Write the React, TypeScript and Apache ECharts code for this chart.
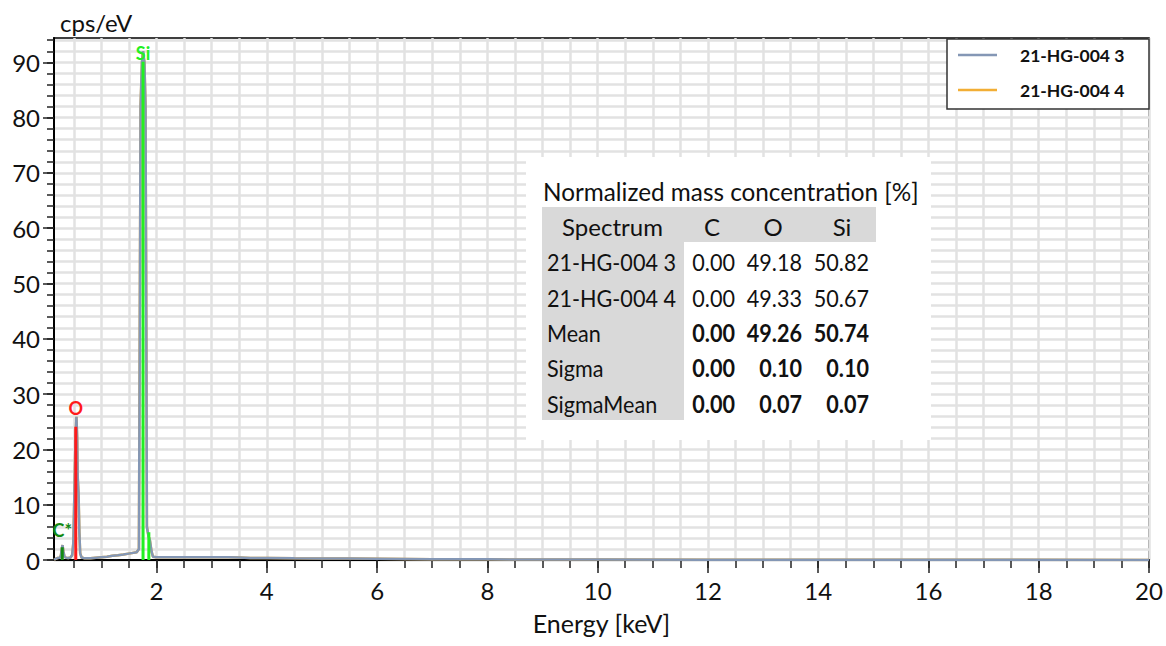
import React, { useEffect, useRef } from "react";
import * as echarts from "echarts";

const FONT = "Lato, 'Noto Sans', sans-serif";

// ---- spectrum (keV, cps/eV) ----
const spectrumEnergy = [
  0.14, 0.17, 0.2, 0.24, 0.265, 0.28, 0.295, 0.31, 0.33, 0.36, 0.4, 0.44, 0.47,
  0.49, 0.51, 0.53, 0.547, 0.56, 0.57, 0.585, 0.6, 0.615, 0.64, 0.7, 0.8, 0.9,
  1.0, 1.1, 1.2, 1.3, 1.4, 1.52, 1.64, 1.68, 1.695, 1.71, 1.735, 1.755, 1.78,
  1.8, 1.815, 1.825, 1.85, 1.88, 1.91, 1.935, 2.0, 2.5, 3.0, 3.3, 3.5, 3.7, 4.0,
  4.5, 5.0, 5.5, 6.0, 6.5, 7.0, 8.0, 9.0, 10.0, 12.0, 15.0, 20.0,
];
const spectrum3Cps = [
  0.05, 0.2, 0.35, 0.4, 0.8, 2.0, 2.7, 1.6, 0.6, 0.4, 0.35, 0.45, 0.9,
  3, 12, 22, 25.9, 22, 15, 12, 5, 1.2, 0.45, 0.3, 0.3, 0.4,
  0.5, 0.6, 0.75, 0.85, 1.0, 1.2, 1.4, 2.0, 40, 82, 90, 92, 90,
  82, 40, 6, 4.5, 3.5, 1.5, 0.6, 0.5, 0.5, 0.48, 0.5, 0.45, 0.38, 0.35,
  0.3, 0.28, 0.25, 0.22, 0.2, 0.15, 0.12, 0.1, 0.08, 0.06, 0.04, 0.02,
];
// second spectrum lies hidden under the first one
const spectrum4Cps = spectrum3Cps;

const seriesNames = ["21-HG-004 3", "21-HG-004 4"];
const seriesColors = ["#8497b5", "#f2ae35"];

// ---- element markers ----
const elementLabels = ["C*", "O", "Si", ""];
const elementEnergy = [0.29, 0.535, 1.755, 1.86];
const elementHeight = [2.3, 24.1, 90.1, 5.0];
const elementColors = ["#138a13", "#ff1a1a", "#22f022", "#22f022"];
const elementLabelGap = [8, 10, 0, 0];

// ---- axes ----
const X_MIN = 0.14;
const X_MAX = 20;
const Y_MIN = 0;
const Y_MAX = 94.4;
const xMajorTicks = [2, 4, 6, 8, 10, 12, 14, 16, 18, 20];
const xMinorTicks = [
  0.5, 1, 1.5, 2, 2.5, 3, 3.5, 4, 4.5, 5, 5.5, 6, 6.5, 7, 7.5, 8, 8.5, 9, 9.5, 10,
  10.5, 11, 11.5, 12, 12.5, 13, 13.5, 14, 14.5, 15, 15.5, 16, 16.5, 17, 17.5, 18,
  18.5, 19, 19.5, 20,
];
const yMajorTicks = [0, 10, 20, 30, 40, 50, 60, 70, 80, 90];
const yMinorTicks = [
  0, 2, 4, 6, 8, 10, 12, 14, 16, 18, 20, 22, 24, 26, 28, 30, 32, 34, 36, 38, 40,
  42, 44, 46, 48, 50, 52, 54, 56, 58, 60, 62, 64, 66, 68, 70, 72, 74, 76, 78, 80,
  82, 84, 86, 88, 90, 92, 94,
];

// ---- table ----
const tableTitle = "Normalized mass concentration [%]";
const tableHeader = ["Spectrum", "C", "O", "Si"];
const tableRowNames = ["21-HG-004 3", "21-HG-004 4", "Mean", "Sigma", "SigmaMean"];
const tableC = ["0.00", "0.00", "0.00", "0.00", "0.00"];
const tableO = ["49.18", "49.33", "49.26", "0.10", "0.07"];
const tableSi = ["50.82", "50.67", "50.74", "0.10", "0.07"];
const tableBoldFrom = 2;

function buildTable(): any[] {
  const els: any[] = [];
  const fs = 24;
  const sx = 0.9;
  els.push({ type: "rect", z: 5, shape: { x: 526, y: 157, width: 405, height: 283 }, style: { fill: "#ffffff" } });
  els.push({ type: "rect", z: 6, shape: { x: 542, y: 207, width: 334, height: 35 }, style: { fill: "#d9d9d9" } });
  els.push({ type: "rect", z: 6, shape: { x: 542, y: 207, width: 142, height: 213 }, style: { fill: "#d9d9d9" } });
  els.push({
    type: "text", z: 7, x: 543, y: 191,
    style: { text: tableTitle, x: 0, y: 0, align: "left", verticalAlign: "middle", font: `24.3px ${FONT}`, fill: "#111" },
  });
  const headerX = [612.5, 712, 773, 842];
  tableHeader.forEach((h, i) => {
    els.push({
      type: "text", z: 7, x: headerX[i], y: 226,
      style: { text: h, x: 0, y: 0, align: "center", verticalAlign: "middle", font: `${fs}px ${FONT}`, fill: "#111" },
    });
  });
  const valueRight = [735, 802, 869];
  tableRowNames.forEach((name, r) => {
    const y = 261.7 + r * 35.4;
    const bold = r >= tableBoldFrom ? "bold " : "";
    els.push({
      type: "text", z: 7, x: 547, y, scaleX: sx,
      style: { text: name, x: 0, y: 0, align: "left", verticalAlign: "middle", font: `${fs}px ${FONT}`, fill: "#111" },
    });
    [tableC[r], tableO[r], tableSi[r]].forEach((v, c) => {
      els.push({
        type: "text", z: 7, x: valueRight[c], y, scaleX: sx,
        style: { text: v, x: 0, y: 0, align: "right", verticalAlign: "middle", font: `${bold}${fs}px ${FONT}`, fill: "#111" },
      });
    });
  });
  return els;
}

export default function App() {
  const ref = useRef<HTMLDivElement>(null);
  useEffect(() => {
    if (!ref.current) return;
    const chart = echarts.init(ref.current, undefined, { renderer: "svg" });
    const pair = (ys: number[]) => spectrumEnergy.map((e, i) => [e, ys[i]]);
    const axisLabelStyle = { fontFamily: FONT, fontSize: 24, color: "#111" };

    const elementSeries = elementEnergy.map((e, i) => ({
      type: "line",
      name: "el" + i,
      xAxisIndex: 0,
      yAxisIndex: 0,
      z: 4,
      silent: true,
      symbol: "circle",
      symbolSize: 0,
      lineStyle: { color: elementColors[i], width: 3 },
      itemStyle: { color: elementColors[i] },
      data: [
        { value: [e, 0], label: { show: false } },
        {
          value: [e, elementHeight[i]],
          label: {
            show: elementLabels[i] !== "",
            position: "top",
            distance: elementLabelGap[i],
            formatter: elementLabels[i],
            color: elementColors[i],
            fontFamily: FONT,
            fontWeight: "bold",
            fontSize: 18,
          },
        },
      ],
    }));

    chart.setOption({
      animation: false,
      backgroundColor: "#ffffff",
      grid: {
        left: 54,
        right: 17,
        top: 38,
        bottom: 86,
        show: true,
        borderColor: "#000",
        borderWidth: 1.5,
        backgroundColor: "#ffffff",
      },
      legend: {
        data: seriesNames.map((n) => ({ name: n, icon: "rect" })),
        orient: "vertical",
        left: 958,
        top: 45,
        padding: 0,
        z: 10,
        itemWidth: 39,
        itemHeight: 2.5,
        itemGap: 15,
        textStyle: {
          fontFamily: FONT,
          fontSize: 17.5,
          fontWeight: "bold",
          color: "#111",
          lineHeight: 20,
          padding: [0, 0, 0, 18],
        },
      },
      xAxis: [
        {
          type: "value",
          min: X_MIN,
          max: X_MAX,
          position: "bottom",
          name: "Energy [keV]",
          nameLocation: "middle",
          nameGap: 50,
          nameTextStyle: { fontFamily: FONT, fontSize: 25, color: "#111" },
          axisLine: { show: true, onZero: false, lineStyle: { color: "#000", width: 2 } },
          axisTick: { show: true, customValues: xMinorTicks, length: 8, lineStyle: { color: "#222", width: 1.5 } },
          axisLabel: { show: false },
          splitLine: { show: true, lineStyle: { color: "#e2e2e2", width: 2.5 } },
        },
        {
          type: "value",
          min: X_MIN,
          max: X_MAX,
          position: "bottom",
          axisLine: { show: false, onZero: false },
          axisTick: { show: true, customValues: xMajorTicks, length: 13, lineStyle: { color: "#222", width: 1.5 } },
          axisLabel: { show: true, customValues: xMajorTicks, margin: 18, ...axisLabelStyle },
          splitLine: { show: false },
        },
      ],
      yAxis: [
        {
          type: "value",
          min: Y_MIN,
          max: Y_MAX,
          position: "left",
          axisLine: { show: true, onZero: false, lineStyle: { color: "#000", width: 2 } },
          axisTick: { show: true, customValues: yMinorTicks, length: 7, lineStyle: { color: "#222", width: 1.5 } },
          axisLabel: { show: false },
          splitLine: { show: true, lineStyle: { color: "#e2e2e2", width: 2.5 } },
        },
        {
          type: "value",
          min: Y_MIN,
          max: Y_MAX,
          position: "left",
          name: "cps/eV",
          nameLocation: "end",
          nameGap: 4,
          nameTextStyle: { fontFamily: FONT, fontSize: 24, color: "#111", align: "left", padding: [0, 0, 0, 6] },
          axisLine: { show: false, onZero: false },
          axisTick: { show: true, customValues: yMajorTicks, length: 11, lineStyle: { color: "#222", width: 1.5 } },
          axisLabel: { show: true, customValues: yMajorTicks, margin: 14, ...axisLabelStyle },
          splitLine: { show: false },
        },
      ],
      graphic: [
        {
          type: "rect",
          z: 5,
          shape: { x: 947, y: 39, width: 202, height: 70 },
          style: { fill: "#ffffff", stroke: "#333", lineWidth: 1.5 },
        },
        ...buildTable(),
      ],
      series: [
        {
          type: "line",
          name: seriesNames[1],
          xAxisIndex: 0,
          yAxisIndex: 0,
          z: 2,
          symbol: "none",
          silent: true,
          lineStyle: { color: seriesColors[1], width: 2.5 },
          itemStyle: { color: seriesColors[1] },
          data: pair(spectrum4Cps),
        },
        {
          type: "line",
          name: seriesNames[0],
          xAxisIndex: 0,
          yAxisIndex: 0,
          z: 3,
          symbol: "none",
          silent: true,
          lineStyle: { color: seriesColors[0], width: 2.5 },
          itemStyle: { color: seriesColors[0] },
          data: pair(spectrum3Cps),
        },
        ...elementSeries,
      ],
    });
    return () => chart.dispose();
  }, []);
  return (
    <div
      ref={ref}
      style={{ position: "fixed", left: 0, top: 0, width: 1166, height: 646, background: "#fff" }}
    />
  );
}
